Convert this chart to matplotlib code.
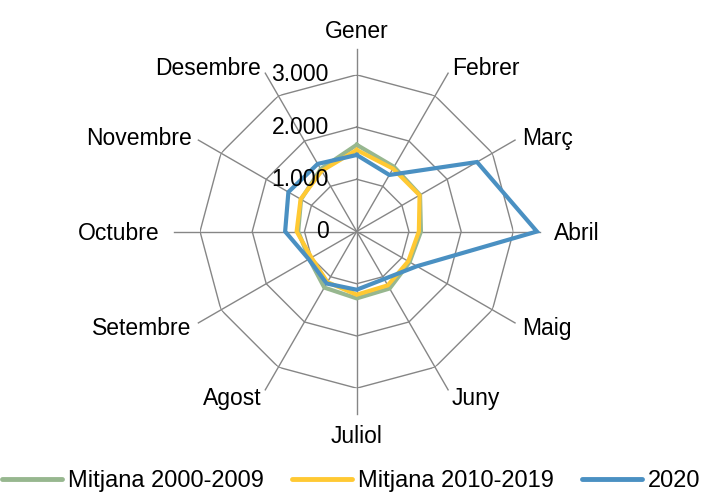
import numpy as np
import matplotlib
matplotlib.use("Agg")
import matplotlib.pyplot as plt
from matplotlib import transforms
from matplotlib.lines import Line2D

plt.rcParams['font.family'] = ['Liberation Sans', 'DejaVu Sans']

# Dades ----------------------------->>>>>
mesos = ['Gener', 'Febrer', 'Març', 'Abril', 'Maig', 'Juny',
         'Juliol', 'Agost', 'Setembre', 'Octubre', 'Novembre', 'Desembre']

mitjana_2000_2009 = [1660, 1430, 1400, 1230, 1170, 1260, 1280, 1240, 1050, 1120, 1230, 1380]
mitjana_2010_2019 = [1560, 1390, 1390, 1190, 1140, 1190, 1210, 1120, 1000, 1150, 1240, 1340]
any_2020 = [1465, 1250, 2660, 3450, 1330, 1050, 1115, 1150, 1060, 1370, 1510, 1494]

series = ['Mitjana 2000-2009', 'Mitjana 2010-2019', '2020']
colors = ['#97B78F', '#FFC933', '#4A90C2']

anells = [1000, 2000, 3000]
etiquetes_anells = ['0', '1.000', '2.000', '3.000']

# Figura ----------------------------->>>>>
W, H = 712, 495
fig = plt.figure(figsize=(W / 100, H / 100), dpi=100)

cx, cy, rad = 356.7, 495 - 231.5, 156.7
ax = fig.add_axes([(cx - rad) / W, (cy - rad) / H, 2 * rad / W, 2 * rad / H],
                  projection='polar')
ax.set_theta_zero_location('N')
ax.set_theta_direction(-1)
ax.set_ylim(0, 3000)
ax.set_xticks([])
ax.set_yticks([])
ax.grid(False)
ax.spines['polar'].set_visible(False)
ax.patch.set_alpha(0)

n = len(mesos)
theta = np.arange(n) * 2 * np.pi / n
theta_tancat = np.append(theta, theta[0])

gris = '#868686'
# anells poligonals
for r in anells:
    ax.plot(theta_tancat, [r] * (n + 1), color=gris, lw=1.0, zorder=1)
# radis
for t in theta:
    ax.plot([t, t], [0, 3500], color=gris, lw=1.0, zorder=1, clip_on=False)

# series
dades = [mitjana_2000_2009, mitjana_2010_2019, any_2020]
for vals, col, nom in zip(dades, colors, series):
    v = np.append(vals, vals[0])
    ax.plot(theta_tancat, v, color=col, lw=3.0, zorder=3, clip_on=False,
            solid_joinstyle='miter', label=nom)

fs = 16.5

# etiquetes dels mesos (baixades 2 px)
baix = transforms.offset_copy(ax.transData, fig=fig, x=0, y=-2, units='dots')
for t, m in zip(theta, mesos):
    s, c = np.sin(t), np.cos(t)
    if abs(s) < 0.1:
        ha = 'center'
        r = 3860 if c > 0 else 3880
    else:
        ha = 'left' if s > 0 else 'right'
        r = 3780 if abs(c) < 0.1 else 3650
    ax.text(t, r, m, ha=ha, va='center', fontsize=fs, clip_on=False,
            transform=baix)

# etiquetes de l'eix radial
off = transforms.offset_copy(ax.transData, fig=fig, x=-28, y=0, units='dots')
for r, lab in zip([0] + anells, etiquetes_anells):
    ax.text(0, r, lab, transform=off, ha='right', va='center', fontsize=fs)

# llegenda
handles = [Line2D([], [], color=c, lw=3.5, solid_capstyle='round') for c in colors]
fig.legend(handles, series, loc='center left', bbox_to_anchor=(2 / W, 14 / H),
           ncol=3, frameon=False, fontsize=17, handlelength=2.54,
           handletextpad=0.25, columnspacing=1.2, borderpad=0.0, borderaxespad=0.0)

fig.savefig('out.png', dpi=100)
